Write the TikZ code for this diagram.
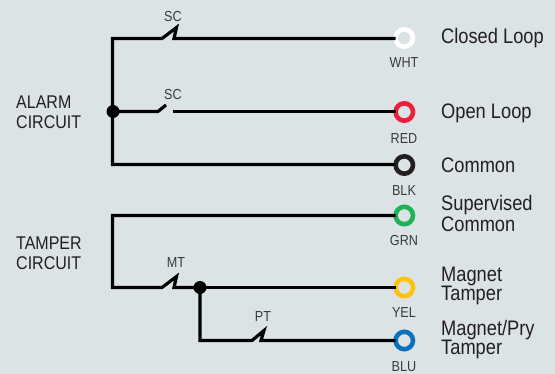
\documentclass[tikz,border=0pt]{standalone}
\usepackage{fontspec}
\setmainfont[FakeStretch=0.87]{Liberation Sans}
\definecolor{bgc}{HTML}{DCE3E5}
\definecolor{inkc}{HTML}{231F20}
\definecolor{txtc}{HTML}{3A3A3C}
\definecolor{redc}{HTML}{E8203A}
\definecolor{grnc}{HTML}{1DB356}
\definecolor{yelc}{HTML}{FFC20E}
\definecolor{bluc}{HTML}{0A72BA}
\tikzset{
  wire/.style={draw=black,line width=3.2pt,line join=miter},
  ring/.style={circle,draw=#1,line width=4.6pt,fill=bgc,minimum size=17.4pt,inner sep=0pt,outer sep=0pt},
  tag/.style={text=txtc,font=\fontsize{14.5}{14.5}\selectfont,inner sep=0pt},
  title/.style={text=inkc,font=\fontsize{21}{19}\selectfont,inner sep=0pt,anchor=west,align=left},
  sidetitle/.style={text=inkc,font=\fontsize{18.4}{20}\selectfont,inner sep=0pt,anchor=west,align=left},
  dotmark/.style={circle,fill=black,minimum size=13pt,inner sep=0pt,outer sep=0pt}
}
\begin{document}
\begin{tikzpicture}[x=1pt,y=-1pt]
\useasboundingbox[fill=bgc] (0,0) rectangle (555,374);
% terminals
\node[ring=white] (wht) at (404.3,38) {};
\node[ring=redc] (red) at (404.3,112) {};
\node[ring=inkc] (blk) at (404.3,165) {};
\node[ring=grnc] (grn) at (404.3,215.5) {};
\node[ring=yelc] (yel) at (404.3,287.5) {};
\node[ring=bluc] (blu) at (404.3,340.5) {};
% junctions
\coordinate (ja) at (113,111.5);
\coordinate (jt) at (200,287.5);
% alarm wires
\draw[wire] (wht.west |- 0,38.5) -- (174,38.5) -- (176.5,27.5) -- (162,38.5) -- (112.5,38.5) -- (112.5,164.5) -- (blk.west |- 0,164.5);
\draw[wire] (ja) -- (158,111.5) -- (166,105);
\draw[wire] (173,111.5) -- (red.west |- 0,111.5);
% tamper wires
\draw[wire] (grn.west |- 0,215.5) -- (112.5,215.5) -- (112.5,287.5) -- (162,287.5) -- (176.5,276.5) -- (174,287.5) -- (jt);
\draw[wire] (jt) -- (yel.west |- 0,287.5);
\draw[wire] (jt) -- (jt |- 0,340.5) -- (252,340.5) -- (264,330.5) -- (261,340.5) -- (blu.west |- 0,340.5);
\node[dotmark] (dota) at (ja) {};
\node[dotmark] (dott) at (jt) {};
% switch labels
\node[tag] (sc1) at (173,16.5) {SC};
\node[tag] (sc2) at (173,94.5) {SC};
\node[tag] (mt) at (176,262.5) {MT};
\node[tag] (pt) at (263,316.5) {PT};
% colour labels
\node[tag] (lw) at (404,63) {WHT};
\node[tag] (lr) at (404,138.5) {RED};
\node[tag] (lk) at (404,190.5) {BLK};
\node[tag] (lg) at (404,240.5) {GRN};
\node[tag] (ly) at (404,312.5) {YEL};
\node[tag] (lb) at (404,366.5) {BLU};
% side titles
\node[sidetitle] (alarm) at (16,112.5) {ALARM\\CIRCUIT};
\node[sidetitle] (tamper) at (16,253) {TAMPER\\CIRCUIT};
% right titles
\node[title] (t1) at (441,38.5) {Closed Loop};
\node[title] (t2) at (441,113.5) {Open Loop};
\node[title] (t3) at (441,165) {Common};
\node[title] (t4) at (441,213.5) {Supervised\\Common};
\node[title] (t5) at (441,286) {Magnet\\Tamper};
\node[title] (t6) at (441,340) {Magnet/Pry\\Tamper};
\end{tikzpicture}
\end{document}
